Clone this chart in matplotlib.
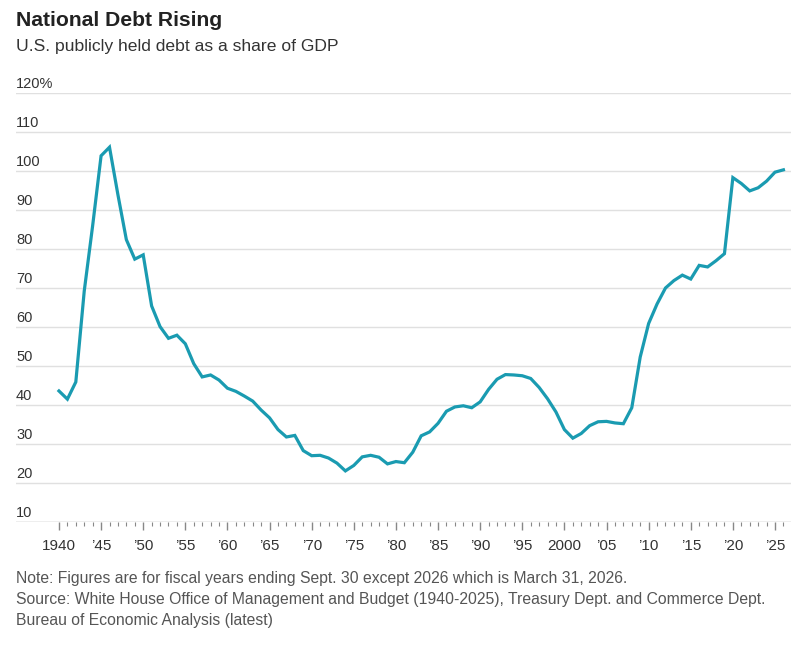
import matplotlib
matplotlib.use('Agg')
import matplotlib.pyplot as plt
import numpy as np

plt.rcParams['font.family'] = ['Liberation Sans Narrow', 'Liberation Sans', 'DejaVu Sans']

# debt held by the public, % of GDP
years = list(range(1940, 2027))
debt = [43.6, 41.5, 45.9, 69.2, 86.0, 103.9, 106.1, 93.9, 82.4, 77.4,
        78.5, 65.4, 60.1, 57.1, 57.9, 55.7, 50.6, 47.2, 47.7, 46.4,
        44.3, 43.5, 42.3, 41.0, 38.7, 36.7, 33.7, 31.8, 32.2, 28.3,
        27.0, 27.1, 26.4, 25.1, 23.1, 24.5, 26.7, 27.1, 26.6, 24.9,
        25.5, 25.2, 27.9, 32.1, 33.1, 35.3, 38.4, 39.5, 39.8, 39.3,
        40.8, 44.0, 46.6, 47.8, 47.7, 47.5, 46.8, 44.5, 41.6, 38.2,
        33.7, 31.5, 32.7, 34.7, 35.7, 35.8, 35.4, 35.2, 39.3, 52.3,
        60.9, 65.9, 70.0, 71.9, 73.3, 72.3, 75.8, 75.4, 77.0, 78.8,
        98.3, 96.8, 94.9, 95.7, 97.4, 99.7, 100.3]

y_ticks = [10, 20, 30, 40, 50, 60, 70, 80, 90, 100, 110, 120]
y_labels = ['10', '20', '30', '40', '50', '60', '70', '80', '90', '100', '110', '120%']
x_ticks = list(range(1940, 2026, 5))
x_labels = ['1940', '\u201945', '\u201950', '\u201955', '\u201960', '\u201965', '\u201970',
            '\u201975', '\u201980', '\u201985', '\u201990', '\u201995', '2000', '\u201905',
            '\u201910', '\u201915', '\u201920', '\u201925']

fig = plt.figure(figsize=(8.12, 6.5), dpi=100)
ax = fig.add_axes([16/812, 1 - 522/650, 775/812, 429/650])

ax.plot(years, debt, color='#1a9bb1', lw=2.3, solid_joinstyle='miter', zorder=3)

ax.set_xlim(1934.9, 2026.9)
ax.set_ylim(10, 120)

for v in y_ticks:
    if v > 10:
        ax.axhline(v, color='#e0e0e0', lw=1, zorder=1)
ax.axhline(10, color='#aaaaaa', lw=1, zorder=2)

for v, lab in zip(y_ticks, y_labels):
    ax.annotate(lab, (0, v), xycoords=ax.get_yaxis_transform(), xytext=(0, 1.5),
                textcoords='offset points', ha='left', va='bottom',
                fontsize=10.5, color='#333333')

for s in ax.spines.values():
    s.set_visible(False)
ax.set_yticks([])
ax.set_xticks(x_ticks)
ax.set_xticklabels(x_labels, fontsize=11, color='#333333')
ax.set_xticks(range(1940, 2027), minor=True)
ax.tick_params(axis='x', which='major', length=6, width=1, color='#888888', pad=6)
ax.tick_params(axis='x', which='minor', length=3, width=0.8, color='#888888')

fig.text(16/812, 1 - 20/650, 'National Debt Rising', fontsize=15.2, fontweight='bold',
         color='#222222', ha='left', va='center')
fig.text(16/812, 1 - 46/650, 'U.S. publicly held debt as a share of GDP', fontsize=12.6,
         color='#333333', ha='left', va='center')

notes = ['Note: Figures are for fiscal years ending Sept. 30 except 2026 which is March 31, 2026.',
         'Source: White House Office of Management and Budget (1940-2025), Treasury Dept. and Commerce Dept.',
         'Bureau of Economic Analysis (latest)']
for i, n in enumerate(notes):
    fig.text(16/812, 1 - (578 + 21.5*i)/650, n, fontsize=11.3, color='#555555',
             ha='left', va='center')

fig.savefig('out.png', dpi=100)
